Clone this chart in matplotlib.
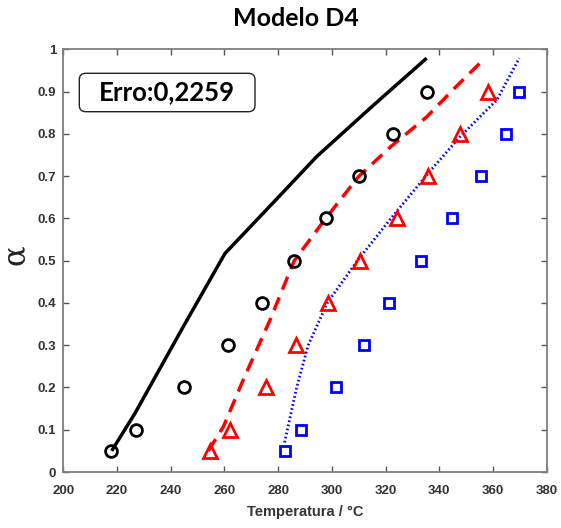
import matplotlib
matplotlib.use("Agg")
import matplotlib.pyplot as plt
from matplotlib.patches import FancyBboxPatch

# experimental data
alpha_exp = [0.05, 0.1, 0.2, 0.3, 0.4, 0.5, 0.6, 0.7, 0.8, 0.9]
T_black = [217.9, 227.0, 244.9, 261.4, 274.1, 286.0, 297.7, 310.1, 322.6, 335.3]
T_red = [254.6, 262.1, 275.3, 286.5, 298.7, 310.5, 324.1, 335.9, 347.7, 358.0]
T_blue = [282.5, 288.5, 301.5, 312.0, 321.3, 333.1, 344.6, 355.6, 364.7, 369.8]

# model curves
line_black_T = [218.0, 226.7, 244.6, 260.2, 272.0, 283.2, 294.3, 315.0, 335.3]
line_black_a = [0.05, 0.139, 0.343, 0.517, 0.596, 0.671, 0.746, 0.865, 0.979]
line_red_T = [254.0, 259.6, 267.0, 277.0, 286.0, 297.7, 310.1, 322.0, 335.3, 346.0, 357.0]
line_red_a = [0.05, 0.107, 0.218, 0.36, 0.5, 0.6, 0.7, 0.77, 0.84, 0.91, 0.979]
line_blue_T = [282.4, 286.9, 291.2, 298.3, 309.5, 322.0, 335.9, 347.7, 361.4, 369.8]
line_blue_a = [0.07, 0.2, 0.3, 0.4, 0.5, 0.6, 0.707, 0.793, 0.88, 0.979]

xticks = [200, 220, 240, 260, 280, 300, 320, 340, 360, 380]
yticks = [0, 0.1, 0.2, 0.3, 0.4, 0.5, 0.6, 0.7, 0.8, 0.9, 1]
ytick_labels = ["0", "0.1", "0.2", "0.3", "0.4", "0.5", "0.6", "0.7", "0.8", "0.9", "1"]

fig = plt.figure(figsize=(5.61, 5.28), dpi=100)
ax = fig.add_axes([0.1128, 0.106, 0.8617, 0.8006])

ax.plot(line_black_T, line_black_a, color="black", lw=2.5, solid_capstyle="butt")
ax.plot(line_red_T, line_red_a, color="#ff0000", lw=2.5, ls=(0, (4.0, 2.4)))
ax.plot(line_blue_T, line_blue_a, color="#0000ff", lw=2.0, ls=(0, (0.6, 0.9)))

ax.plot(T_black, alpha_exp, ls="none", marker="o", ms=8.5, mfc="none", mec="black", mew=2.0)
ax.plot(T_red, alpha_exp, ls="none", marker="^", ms=10, mfc="none", mec="#ff0000", mew=2.0)
ax.plot(T_blue, alpha_exp, ls="none", marker="s", ms=6.5, mfc="none", mec="#0000ff", mew=2.0)

ax.set_xlim(200, 380)
ax.set_ylim(0, 1)
ax.set_xticks(xticks)
ax.set_yticks(yticks)
ax.set_yticklabels(ytick_labels)
for s in ax.spines.values():
    s.set_color("#7f7f7f")
    s.set_linewidth(1.3)
ax.tick_params(direction="in", top=True, right=True, length=4, width=1, color="#555555",
               labelcolor="#333333", labelsize=9.5)
ax.tick_params(axis="x", pad=9)
ax.tick_params(axis="y", pad=5)
for lab in ax.get_xticklabels() + ax.get_yticklabels():
    lab.set_fontfamily("Liberation Sans")
    lab.set_fontweight("bold")

ax.set_xlabel("Temperatura / °C", fontfamily="Liberation Sans", fontweight="bold",
              fontsize=10.5, color="#333333", labelpad=6)
fig.text(0.028, 0.517, "α", rotation=90, fontfamily="DejaVu Serif", fontsize=22,
         ha="center", va="center", color="#222222")

fig.text(0.528, 0.965, "Modelo D4", fontfamily="Lato", fontweight="bold", fontsize=18,
         ha="center", va="center", color="black")

# error box
bx0, by0 = 79.3 / 561, 1 - 111.7 / 528
bw, bh = (255 - 79.3) / 561, (111.7 - 73.3) / 528
box = FancyBboxPatch((bx0, by0), bw, bh, boxstyle="round,pad=0,rounding_size=0.012",
                     transform=fig.transFigure, fc="white", ec="#222222", lw=1.0, zorder=5)
fig.add_artist(box)
fig.text(bx0 + bw / 2, by0 + bh / 2, "Erro:0,2259", fontfamily="Lato", fontweight="bold",
         fontsize=18.5, ha="center", va="center", color="black", zorder=6)

fig.savefig("out.png", dpi=100)
